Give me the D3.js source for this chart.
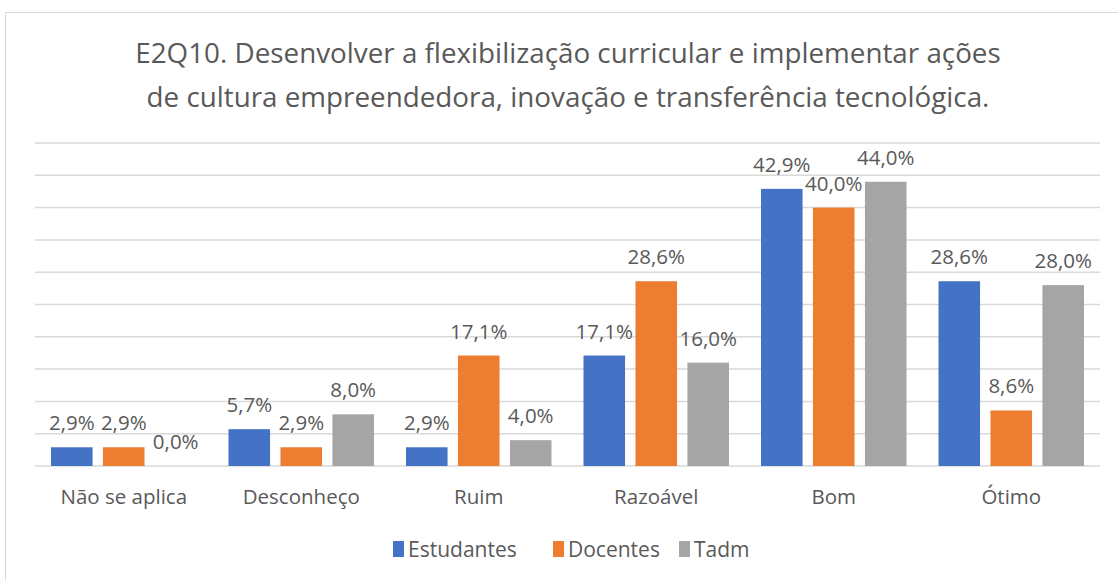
<!DOCTYPE html>
<html>
<head>
<meta charset="utf-8">
<style>
  body { margin: 0; background: #fff; }
  text { font-family: "Open Sans", sans-serif; fill: #595959; }
</style>
</head>
<body>
<svg width="1118" height="580"></svg>
<script src="https://d3js.org/d3.v7.min.js"></script>
<script>
  var categories = ["Não se aplica", "Desconheço", "Ruim", "Razoável", "Bom", "Ótimo"];
  var seriesNames = ["Estudantes", "Docentes", "Tadm"];
  var estudantes = [2.9, 5.7, 2.9, 17.1, 42.9, 28.6];
  var docentes = [2.9, 2.9, 17.1, 28.6, 40.0, 8.6];
  var tadm = [0.0, 8.0, 4.0, 16.0, 44.0, 28.0];
  var titleLines = ["E2Q10. Desenvolver a flexibilização curricular e implementar ações",
                    "de cultura empreendedora, inovação e transferência tecnológica."];
  var colors = ["#4472C4", "#ED7D31", "#A5A5A5"];

  var svg = d3.select("svg"),
      margin = {top: 143, right: 18, bottom: 114, left: 35},
      width = +svg.attr("width") - margin.left - margin.right,
      height = +svg.attr("height") - margin.top - margin.bottom;

  // chart frame
  svg.append("rect")
      .attr("x", 5.5).attr("y", 12.5)
      .attr("width", 1130).attr("height", 600)
      .attr("fill", "none")
      .attr("stroke", "#D9D9D9");

  svg.append("g").selectAll("text")
    .data(titleLines)
    .enter().append("text")
      .attr("x", 568)
      .attr("y", function(d, i) { return 63 + i * 44; })
      .attr("text-anchor", "middle")
      .style("font-size", "27.8px")
      .text(function(d) { return d; });

  var g = svg.append("g").attr("transform", "translate(" + margin.left + "," + margin.top + ")");

  var x0 = d3.scaleBand().domain(categories).range([0, width]).paddingInner(0).paddingOuter(0);
  var x1 = d3.scaleBand().domain(seriesNames).range([16, x0.bandwidth() - 16]).paddingInner(0.2);
  var y = d3.scaleLinear().domain([0, 50]).range([height, 0]);

  // gridlines
  g.append("g").selectAll("line")
    .data(y.ticks(10))
    .enter().append("line")
      .attr("x1", 0).attr("x2", width)
      .attr("y1", function(d) { return y(d); })
      .attr("y2", function(d) { return y(d); })
      .attr("stroke", "#D9D9D9")
      .attr("stroke-width", 1.5);

  var data = [];
  categories.forEach(function(c, i) {
    [estudantes, docentes, tadm].forEach(function(s, j) {
      data.push({cat: c, series: seriesNames[j], value: s[i], color: colors[j]});
    });
  });

  g.append("g").selectAll("rect")
    .data(data)
    .enter().append("rect")
      .attr("x", function(d) { return x0(d.cat) + x1(d.series); })
      .attr("y", function(d) { return y(d.value); })
      .attr("width", x1.bandwidth())
      .attr("height", function(d) { return height - y(d.value); })
      .attr("fill", function(d) { return d.color; });

  g.append("g").selectAll("text")
    .data(data)
    .enter().append("text")
      .attr("x", function(d) { return x0(d.cat) + x1(d.series) + x1.bandwidth() / 2; })
      .attr("y", function(d) { return y(d.value) - 17; })
      .attr("text-anchor", "middle")
      .style("font-size", "20.5px")
      .text(function(d) { return d.value.toFixed(1).replace(".", ",") + "%"; });

  var xAxis = g.append("g")
      .attr("transform", "translate(0," + height + ")")
      .call(d3.axisBottom(x0).tickSize(0).tickPadding(23));
  xAxis.select(".domain").remove();
  xAxis.selectAll("text")
      .style("font-family", "'Open Sans', sans-serif")
      .style("font-size", "20.5px")
      .attr("fill", "#595959");

  // legend
  var legendX = [393, 553, 679];
  var legend = svg.append("g").selectAll("g")
    .data(seriesNames)
    .enter().append("g")
      .attr("transform", function(d, i) { return "translate(" + legendX[i] + ",549)"; });
  legend.append("rect")
      .attr("x", 0).attr("y", -8)
      .attr("width", 11).attr("height", 16)
      .attr("fill", function(d, i) { return colors[i]; });
  legend.append("text")
      .attr("x", 15).attr("y", 8)
      .style("font-size", "21px")
      .text(function(d) { return d; });
</script>
</body>
</html>
